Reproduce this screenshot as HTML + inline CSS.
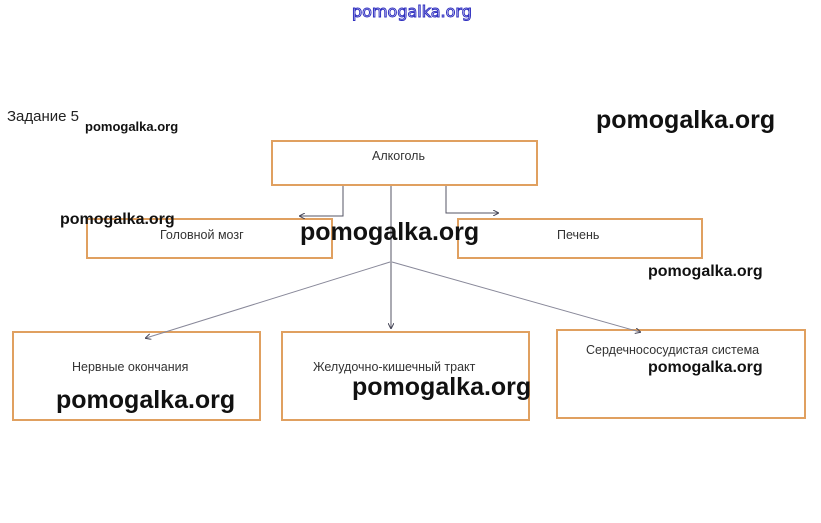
<!DOCTYPE html>
<html><head><meta charset="utf-8"><style>
body{margin:0;width:821px;height:523px;background:#fff;position:relative;overflow:hidden;font-family:"Liberation Sans","DejaVu Sans",sans-serif}
.b{position:absolute;border:2px solid #e0a060;box-sizing:border-box;background:#fff}
.t{position:absolute;font-size:12.5px;color:#333;white-space:nowrap}
.w{position:absolute;font-weight:bold;color:#111;white-space:nowrap;font-family:"Liberation Sans",sans-serif}
</style></head><body>
<div style="position:absolute;left:352px;top:2px;font-size:16px;color:#fff;-webkit-text-stroke:1px #3030c0;font-family:'DejaVu Sans',sans-serif">pomogalka.org</div>
<div class="t" style="left:7px;top:108px;font-size:15px;color:#222">Задание 5</div>
<div class="w" style="left:85px;top:119px;font-size:13px">pomogalka.org</div>
<div class="w" style="left:596px;top:106px;font-size:25px">pomogalka.org</div>

<div class="b" style="left:271px;top:140px;width:267px;height:46px"></div>
<div class="t" style="left:372px;top:149px">Алкоголь</div>
<div class="b" style="left:86px;top:218px;width:247px;height:41px"></div>
<div class="t" style="left:160px;top:228px">Головной мозг</div>
<div class="b" style="left:457px;top:218px;width:246px;height:41px"></div>
<div class="t" style="left:557px;top:228px">Печень</div>
<div class="b" style="left:12px;top:331px;width:249px;height:90px"></div>
<div class="t" style="left:72px;top:360px">Нервные окончания</div>
<div class="b" style="left:281px;top:331px;width:249px;height:90px"></div>
<div class="t" style="left:313px;top:360px">Желудочно-кишечный тракт</div>
<div class="b" style="left:556px;top:329px;width:250px;height:90px"></div>
<div class="t" style="left:586px;top:343px">Сердечнососудистая система</div>

<svg style="position:absolute;left:0;top:0" width="821" height="523">
<defs><marker id="a" markerWidth="6" markerHeight="6" refX="5" refY="3" orient="auto"><path d="M0,0L6,3L0,6" fill="none" stroke="#445" stroke-width="1"/></marker></defs>
<g stroke="#556" stroke-width="1" fill="none">
<path d="M343,186V216H300" marker-end="url(#a)"/>
<path d="M446,186V213H498" marker-end="url(#a)"/>
<path d="M391,186V328" marker-end="url(#a)"/>
<path d="M390,262L146,338" marker-end="url(#a)" stroke="#889"/>
<path d="M392,262L640,332" marker-end="url(#a)" stroke="#889"/>
</g></svg>

<div class="w" style="left:60px;top:211px;font-size:16px">pomogalka.org</div>
<div class="w" style="left:300px;top:218px;font-size:25px">pomogalka.org</div>
<div class="w" style="left:648px;top:263px;font-size:16px">pomogalka.org</div>
<div class="w" style="left:648px;top:359px;font-size:16px">pomogalka.org</div>
<div class="w" style="left:56px;top:386px;font-size:25px">pomogalka.org</div>
<div class="w" style="left:352px;top:373px;font-size:25px">pomogalka.org</div>
</body></html>
